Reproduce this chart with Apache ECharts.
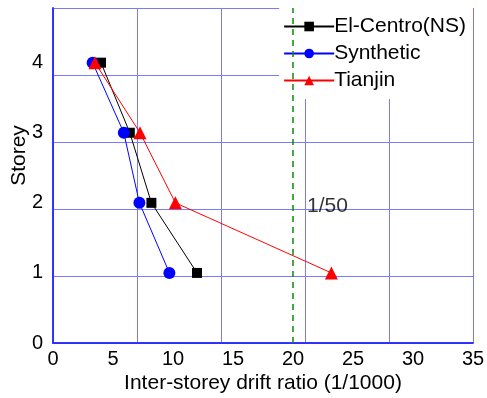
<!DOCTYPE html>
<html><head><meta charset="utf-8">
<script src="https://cdn.jsdelivr.net/npm/echarts@6/dist/echarts.min.js"></script>
<style>html,body{margin:0;padding:0;background:#fff}#c{width:487px;height:398px}</style>
</head><body><div id="c"></div>
<script>
var storeys = [1, 2, 3, 4];
var elCentro = [12.0, 8.2, 6.4, 4.0];
var synthetic = [9.7, 7.2, 5.9, 3.3];
var tianjin = [23.2, 10.2, 7.25, 3.5];
var limitDrift = 20;
var limitLabel = '1/50';
var xTicks = [0, 5, 10, 15, 20, 25, 30, 35];
var yTicks = [0, 1, 2, 3, 4];

function pairs(xs){ return xs.map(function(v,i){ return [v, storeys[i]]; }); }
var font = 'Liberation Sans, Arial, sans-serif';
var blue = '#2a2aff';
var chart = echarts.init(document.getElementById('c'));
chart.setOption({
  animation: false,
  grid: {left: 53, right: 14, top: 8, bottom: 55, containLabel: false, outerBoundsMode: 'none'},
  legend: {
    right: 14, top: 8, orient: 'vertical', itemGap: 6, itemWidth: 50, itemHeight: 12,
    backgroundColor: '#fff', padding: [8, 7, 8, 4], z: 1,
    textStyle: {fontFamily: font, fontSize: 21, color: '#000', padding: [0, 0, 0, -5]},
    data: ['El-Centro(NS)', 'Synthetic', 'Tianjin']
  },
  xAxis: [{
    type: 'value', min: 0, max: 35, interval: 5,
    name: 'Inter-storey drift ratio (1/1000)', nameLocation: 'middle', nameGap: 30,
    nameMoveOverlap: false,
    nameTextStyle: {fontFamily: font, fontSize: 21, color: '#000'},
    axisLine: {show: true, lineStyle: {color: blue, width: 1.5}},
    axisTick: {show: false}, splitLine: {show: false},
    axisLabel: {fontFamily: font, fontSize: 20, color: '#000', margin: 6}
  }, {
    type: 'value', min: 0, max: 35, interval: 7, position: 'top',
    axisLine: {show: true, lineStyle: {color: blue, width: 1.5}},
    axisTick: {show: false}, axisLabel: {show: false},
    splitLine: {show: true, lineStyle: {color: '#7a7aff', width: 1}}
  }],
  yAxis: [{
    type: 'value', min: 0, max: 4.78, interval: 1,
    name: 'Storey', nameLocation: 'middle', nameGap: 23, nameMoveOverlap: false,
    nameTextStyle: {fontFamily: font, fontSize: 21, color: '#000', padding: [0, 0, 0, 40]},
    axisLine: {show: true, lineStyle: {color: blue, width: 1.5}},
    axisTick: {show: false}, splitLine: {show: false},
    axisLabel: {fontFamily: font, fontSize: 20, color: '#000', margin: 10,
      formatter: function(v){ return yTicks.indexOf(v) >= 0 ? String(v) : ''; }}
  }, {
    type: 'value', min: 0, max: 5, interval: 1, position: 'right',
    axisLine: {show: true, lineStyle: {color: blue, width: 1.5}},
    axisTick: {show: false}, axisLabel: {show: false},
    splitLine: {show: true, lineStyle: {color: '#7a7aff', width: 1}}
  }],
  series: [{
    name: 'El-Centro(NS)', type: 'line', data: pairs(elCentro), z: 5,
    symbol: 'rect', symbolSize: 10, color: '#000',
    lineStyle: {color: '#000', width: 1}, itemStyle: {color: '#000'}
  }, {
    name: 'Synthetic', type: 'line', data: pairs(synthetic), z: 5,
    symbol: 'circle', symbolSize: 12, color: '#0000ff',
    lineStyle: {color: '#0000ff', width: 1}, itemStyle: {color: '#0000ff'}
  }, {
    name: 'Tianjin', type: 'line', data: pairs(tianjin), z: 5,
    symbol: 'triangle', symbolSize: 13, color: '#ff0000',
    lineStyle: {color: '#ff0000', width: 1}, itemStyle: {color: '#ff0000'}
  }, {
    name: 'limit', type: 'line', data: [[limitDrift, 0], [limitDrift, 4.78]], z: 4,
    symbol: 'none', lineStyle: {color: '#0a8a0a', width: 1.5, type: [6, 5]}
  }, {
    name: 'limitLabel', type: 'scatter', data: [[limitDrift, 1.95]], symbolSize: 0, z: 4,
    label: {show: true, position: 'right', distance: 14, formatter: limitLabel,
      fontFamily: font, fontSize: 21, color: '#000'}
  }]
});
</script></body></html>
